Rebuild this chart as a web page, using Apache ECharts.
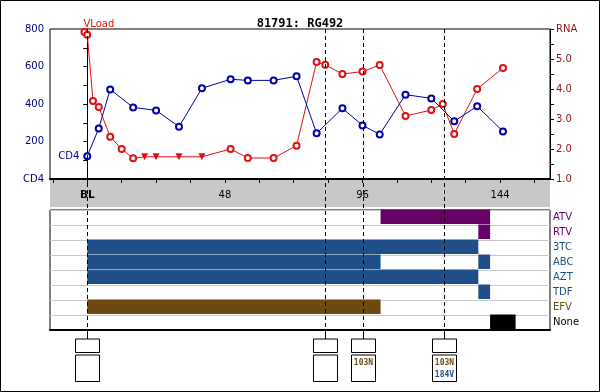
<!DOCTYPE html>
<html><head><meta charset="utf-8">
<script src="https://cdn.jsdelivr.net/npm/echarts@6/dist/echarts.min.js"></script>
<style>html,body{margin:0;padding:0;background:#fff}#c{width:600px;height:392px}</style>
</head><body><div id="c"></div>
<script>
// ---------------- data ----------------
const chartTitle = '81791: RG492';
const xMin = -13, xMax = 161.4;
const xTickValues = [-12, 0, 12, 24, 36, 48, 60, 72, 84, 96, 108, 120, 132, 144, 156];
const xLabelValues = [0, 48, 96, 144];

const cd4Weeks  = [0, 4, 8, 16, 24, 32, 40, 50, 56, 65, 73, 80, 89, 96, 102, 111, 120, 128, 136, 145];
const cd4Values = [122, 270, 478, 382, 366, 279, 484, 532, 526, 526, 548, 244, 377, 286, 238, 450, 430, 308, 388, 254];

const vlWeeks  = [-1, 0, 2, 4, 8, 12, 16, 20, 24, 32, 40, 50, 56, 65, 73, 80, 83, 89, 96, 102, 111, 120, 124, 128, 136, 145];
const vlValues = [5.9, 5.81, 3.6, 3.4, 2.41, 2.0, 1.69, 1.74, 1.74, 1.74, 1.74, 2.0, 1.7, 1.7, 2.11, 4.9, 4.81, 4.5, 4.58, 4.8, 3.1, 3.3, 3.5, 2.5, 4.0, 4.7];
const vlBelowLimit = [false, false, false, false, false, false, false, true, true, true, true, false, false, false, false, false, false, false, false, false, false, false, false, false, false, false];

const drugs = ['ATV', 'RTV', '3TC', 'ABC', 'AZT', 'TDF', 'EFV', 'None'];
const segDrug  = ['ATV', 'RTV', '3TC', 'ABC', 'ABC', 'AZT', 'TDF', 'EFV', 'None'];
const segStart = [102.3, 136.4, 0, 0, 136.4, 0, 136.4, 0, 140.5];
const segEnd   = [140.5, 140.5, 136.4, 102.3, 140.5, 136.4, 140.5, 102.3, 149.4];

const genoWeeks = [0, 83, 96.3, 124.4];
const genoPI    = ['', '', '', ''];
const genoNNRTI = ['', '', '103N', '103N'];
const genoNRTI  = ['', '', '', '184V'];

// ---------------- styles ----------------
const drugColor = {ATV: '#660066', RTV: '#660066', '3TC': '#1f4e88', ABC: '#1f4e88', AZT: '#1f4e88', TDF: '#1f4e88', EFV: '#6e4a12', None: '#000000'};
const cd4Color = '#0000a8';
const vlColor = '#dd1111';
const axisFont = 'DejaVu Sans';

const cd4Data = cd4Weeks.map((w, i) => {
  const d = {value: [w, cd4Values[i]]};
  if (i === 0) d.label = {show: true, formatter: 'CD4', position: 'left', distance: 4, color: cd4Color, fontFamily: axisFont, fontSize: 10};
  return d;
});
const vlData = vlWeeks.map((w, i) => {
  const d = {value: [w, vlValues[i]]};
  if (vlBelowLimit[i]) { d.symbol = 'triangle'; d.symbolRotate = 180; d.symbolSize = 7; }
  if (i === 0) d.label = {show: true, formatter: 'VLoad', position: 'top', distance: 0, align: 'left', offset: [-1, 1], color: vlColor, fontFamily: axisFont, fontSize: 10};
  return d;
});
const segData = segDrug.map((d, i) => [segStart[i], segEnd[i], drugs.indexOf(d)]);
const genoData = genoWeeks.map((w, i) => [w, i]);

const chart = echarts.init(document.getElementById('c'), null, {renderer: 'canvas'});
chart.setOption({
  animation: false,
  backgroundColor: '#fff',
  title: {text: chartTitle, left: 'center', top: 13, textStyle: {fontFamily: 'DejaVu Sans Mono', fontWeight: 'bold', fontSize: 12, color: '#000'}},
  graphic: [{type: 'rect', shape: {x: 0.5, y: 0.5, width: 599, height: 391}, style: {fill: null, stroke: '#000', lineWidth: 1}, z: 100}],
  grid: [
    {left: 50, right: 50, top: 29, height: 150, show: true, borderColor: '#000', borderWidth: 1, backgroundColor: 'transparent'},
    {left: 50, right: 50, top: 180, height: 27, show: true, borderWidth: 0, backgroundColor: '#c8c8c8'},
    {left: 50, right: 50, top: 210, height: 120, show: true, borderColor: '#000', borderWidth: 1, backgroundColor: 'transparent'},
    {left: 50, right: 50, top: 29, height: 301},
    {left: 50, right: 50, top: 330, height: 52}
  ],
  xAxis: [
    {gridIndex: 0, type: 'value', min: xMin, max: xMax, position: 'bottom',
     axisLine: {show: true, lineStyle: {color: '#000', width: 2}},
     axisTick: {show: true, length: 4, lineStyle: {color: '#000'}, customValues: xTickValues},
     axisLabel: {show: true, customValues: xLabelValues, margin: 11, color: '#000', fontFamily: axisFont, fontSize: 10,
       formatter: v => v === 0 ? '{b|BL}' : String(v), rich: {b: {fontWeight: 'bold', fontFamily: axisFont, fontSize: 10.5, color: '#000'}}},
     splitLine: {show: false}},
    {gridIndex: 1, type: 'value', min: xMin, max: xMax, show: false},
    {gridIndex: 2, type: 'value', min: xMin, max: xMax, position: 'bottom',
     axisLine: {show: true, lineStyle: {color: '#000', width: 2}}, axisTick: {show: false}, axisLabel: {show: false}, splitLine: {show: false}},
    {gridIndex: 3, type: 'value', min: xMin, max: xMax, show: false},
    {gridIndex: 4, type: 'value', min: xMin, max: xMax, show: false}
  ],
  yAxis: [
    {gridIndex: 0, type: 'value', min: 0, max: 800, interval: 200, position: 'left',
     axisLine: {show: true, lineStyle: {color: '#000'}},
     axisTick: {show: true, length: 4, lineStyle: {color: '#000'}},
     minorTick: {show: true, splitNumber: 2, length: 4, lineStyle: {color: '#000'}},
     axisLabel: {color: '#000080', fontFamily: axisFont, fontSize: 10, margin: 6, formatter: v => v === 0 ? 'CD4' : String(v)},
     splitLine: {show: false}},
    {gridIndex: 0, type: 'value', min: 1, max: 6, interval: 1, position: 'right',
     axisLine: {show: true, lineStyle: {color: '#000'}},
     axisTick: {show: true, length: 4, lineStyle: {color: '#000'}},
     minorTick: {show: true, splitNumber: 2, length: 4, lineStyle: {color: '#000'}},
     axisLabel: {color: '#8b1010', fontFamily: axisFont, fontSize: 10, margin: 6, formatter: v => v === 6 ? 'RNA' : v.toFixed(1)},
     splitLine: {show: false}},
    {gridIndex: 1, type: 'value', show: false},
    {gridIndex: 2, type: 'category', data: drugs, inverse: true, position: 'right',
     axisLine: {show: false}, axisTick: {show: false},
     axisLabel: {margin: 3, fontFamily: axisFont, fontSize: 10, color: (v) => drugColor[v]},
     splitLine: {show: true, lineStyle: {color: '#c8c8c8', width: 1}}},
    {gridIndex: 3, type: 'value', min: 0, max: 1, show: false},
    {gridIndex: 4, type: 'value', min: 0, max: 1, show: false}
  ],
  series: [
    {type: 'custom', xAxisIndex: 2, yAxisIndex: 3, data: segData, encode: {x: [0, 1], y: 2}, z: 2,
     renderItem: (params, api) => {
       const idx = api.value(2);
       const p0 = api.coord([api.value(0), idx]);
       const p1 = api.coord([api.value(1), idx]);
       const h = api.size([0, 1])[1];
       return {type: 'rect', shape: {x: p0[0], y: p0[1] - h / 2 - 0.5, width: p1[0] - p0[0], height: h - 0.5},
               style: {fill: drugColor[drugs[idx]]}};
     }},
    {type: 'line', name: 'CD4', xAxisIndex: 0, yAxisIndex: 0, data: cd4Data, symbol: 'emptyCircle', symbolSize: 6,
     itemStyle: {color: cd4Color, borderWidth: 1}, lineStyle: {color: cd4Color, width: 1}, z: 4},
    {type: 'line', name: 'VLoad', xAxisIndex: 0, yAxisIndex: 1, data: vlData, symbol: 'emptyCircle', symbolSize: 6,
     itemStyle: {color: vlColor, borderWidth: 1}, lineStyle: {color: vlColor, width: 1}, z: 3},
    {type: 'custom', xAxisIndex: 3, yAxisIndex: 4, data: genoWeeks.map(w => [w]), z: 10,
     renderItem: (params, api) => {
       const x = Math.round(api.coord([api.value(0), 0])[0]) + 0.5;
       const top = params.coordSys.y, bottom = top + params.coordSys.height;
       return {type: 'line', shape: {x1: x, y1: top, x2: x, y2: bottom},
               style: {stroke: '#000', lineWidth: 1, lineDash: [4, 3]}};
     }},
    {type: 'custom', xAxisIndex: 4, yAxisIndex: 5, data: genoData, z: 10,
     renderItem: (params, api) => {
       const i = api.value(1);
       const x = Math.round(api.coord([api.value(0), 0])[0]) + 0.5;
       const top = params.coordSys.y;
       const w = 24;
       const font = 'bold 8px "DejaVu Sans Mono"';
       return {type: 'group', children: [
         {type: 'line', shape: {x1: x, y1: top, x2: x, y2: top + 9}, style: {stroke: '#000', lineWidth: 1}},
         {type: 'rect', shape: {x: x - w / 2, y: top + 9, width: w, height: 13.5}, style: {fill: '#fff', stroke: '#000', lineWidth: 1}},
         {type: 'rect', shape: {x: x - w / 2, y: top + 25, width: w, height: 26.5}, style: {fill: '#fff', stroke: '#000', lineWidth: 1}},
         {type: 'text', style: {text: genoPI[i], x: x, y: top + 16, align: 'center', verticalAlign: 'middle', fill: '#660066', font: font}},
         {type: 'text', style: {text: genoNNRTI[i], x: x, y: top + 33, align: 'center', verticalAlign: 'middle', fill: '#6e4a12', font: font}},
         {type: 'text', style: {text: genoNRTI[i], x: x, y: top + 45, align: 'center', verticalAlign: 'middle', fill: '#1f4e88', font: font}}
       ]};
     }}
  ]
});
</script></body></html>
